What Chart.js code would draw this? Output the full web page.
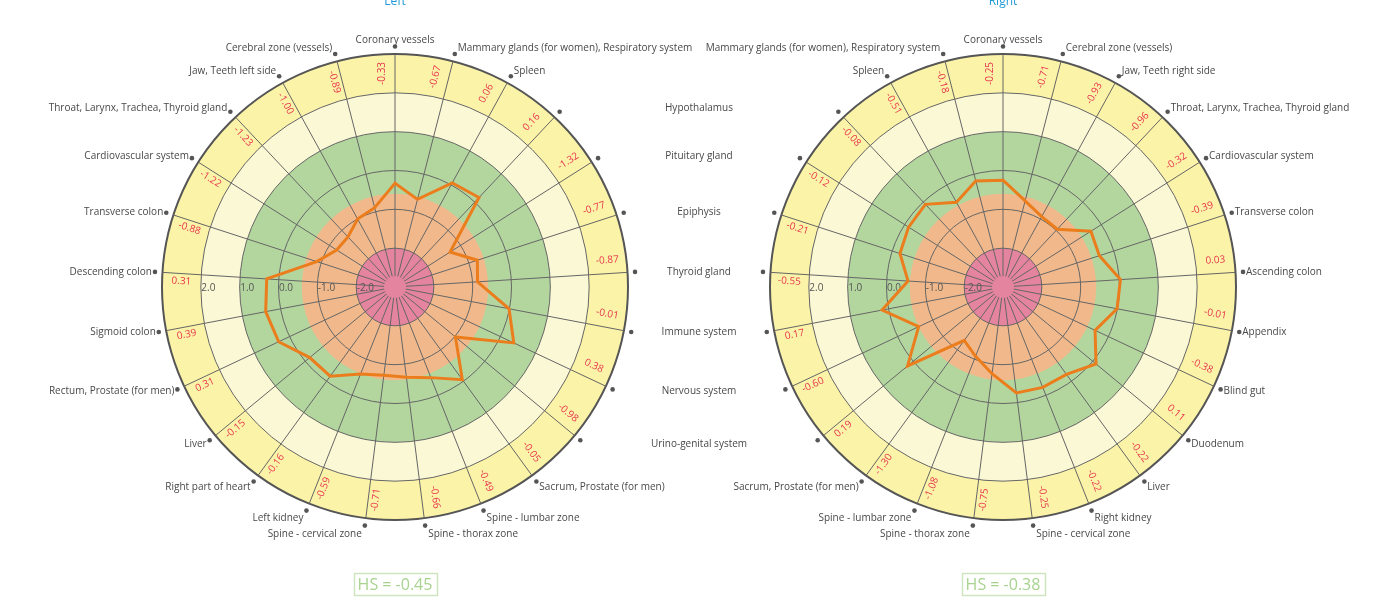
<!DOCTYPE html>
<html>
<head>
<meta charset="utf-8">
<title>Health score</title>
<script src="https://cdn.jsdelivr.net/npm/chart.js@4.4.0/dist/chart.umd.min.js"></script>
<style>
  html, body { margin: 0; padding: 0; background: #fff; overflow: hidden; }
  .panel { position: absolute; top: 0; width: 790px; height: 600px; }
  #leftPanel { left: 0; }
  #rightPanel { left: 608px; }
</style>
</head>
<body>
<div class="panel" id="leftPanel"><canvas id="leftChart"></canvas></div>
<div class="panel" id="rightPanel"><canvas id="rightChart"></canvas></div>
<script>
// zones go clockwise starting at the top
const leftLabels = [
  "Coronary vessels", "Mammary glands (for women), Respiratory system", "Spleen",
  "Hypothalamus", "Pituitary gland", "Epiphysis", "Thyroid gland", "Immune system",
  "Nervous system", "Urino-genital system", "Sacrum, Prostate (for men)",
  "Spine - lumbar zone", "Spine - thorax zone", "Spine - cervical zone", "Left kidney",
  "Right part of heart", "Liver", "Rectum, Prostate (for men)", "Sigmoid colon",
  "Descending colon", "Transverse colon", "Cardiovascular system",
  "Throat, Larynx, Trachea, Thyroid gland", "Jaw, Teeth left side", "Cerebral zone (vessels)"
];
const leftValues = [
  -0.33, -0.67, 0.06, 0.16, -1.32, -0.77, -0.87, -0.01, 0.38, -0.98, -0.05, -0.49, -0.66,
  -0.71, -0.59, -0.16, -0.15, 0.31, 0.39, 0.31, -0.88, -1.22, -1.23, -1.00, -0.89
];
const rightLabels = [
  "Coronary vessels", "Cerebral zone (vessels)", "Jaw, Teeth right side",
  "Throat, Larynx, Trachea, Thyroid gland", "Cardiovascular system", "Transverse colon",
  "Ascending colon", "Appendix", "Blind gut", "Duodenum", "Liver", "Right kidney",
  "Spine - cervical zone", "Spine - thorax zone", "Spine - lumbar zone",
  "Sacrum, Prostate (for men)", "Urino-genital system", "Nervous system", "Immune system",
  "Thyroid gland", "Epiphysis", "Pituitary gland", "Hypothalamus", "Spleen",
  "Mammary glands (for women), Respiratory system"
];
const rightValues = [
  -0.25, -0.71, -0.93, -0.96, -0.32, -0.39, 0.03, -0.01, -0.38, 0.11, -0.22, -0.22, -0.25,
  -0.75, -1.08, -1.30, 0.19, -0.60, 0.17, -0.55, -0.21, -0.12, -0.08, -0.51, -0.18
];
const tickValues = [-2, -1, 0, 1, 2];
const bandEdges = [-3, -2, -0.6, 1, 2, 3];
const bandColors = ["#e5849f", "#f1b98b", "#b3d69f", "#fbf8d5", "#fbf3a7"];

// left chart: labels in the middle are left out, right chart: they are stacked in a column
const leftHidden = [3, 4, 5, 6, 7, 8, 9];
const rightColumn = [16, 17, 18, 19, 20, 21, 22];

function makeChart(canvasId, title, labels, values, hidden, column) {
  const zones = {
    id: "zones",
    beforeDraw(chart) {
      const r = chart.scales.r;
      const ctx = chart.ctx;
      ctx.save();
      for (let i = bandEdges.length - 1; i > 0; i--) {
        ctx.beginPath();
        ctx.arc(r.xCenter, r.yCenter, r.getDistanceFromCenterForValue(bandEdges[i]), 0, Math.PI * 2);
        ctx.fillStyle = bandColors[i - 1];
        ctx.fill();
      }
      ctx.restore();
    },
    beforeDatasetsDraw(chart) {
      const r = chart.scales.r;
      const ctx = chart.ctx;
      const outer = r.getDistanceFromCenterForValue(r.max);
      const mid = (r.getDistanceFromCenterForValue(2) + outer) / 2;
      ctx.save();
      // cover the knot where the spokes meet
      ctx.beginPath();
      ctx.arc(r.xCenter, r.yCenter, 11, 0, Math.PI * 2);
      ctx.fillStyle = bandColors[0];
      ctx.fill();

      ctx.font = "10px 'Open Sans'";
      ctx.fillStyle = "#555";
      ctx.textAlign = "left";
      ctx.textBaseline = "middle";
      tickValues.forEach(t => {
        ctx.fillText(t.toFixed(1), r.xCenter - r.getDistanceFromCenterForValue(t) + 0.5, r.yCenter + 1.5);
      });

      labels.forEach((name, i) => {
        const a = r.getIndexAngle(i);
        const sin = Math.sin(a), cos = Math.cos(a);

        // value written along the spoke in the outer band
        const p = r.getPointPosition(i, mid);
        ctx.save();
        ctx.translate(p.x - cos * 10.5, p.y - sin * 10.5);
        ctx.rotate(a < Math.PI ? a - Math.PI / 2 : a - 1.5 * Math.PI);
        ctx.fillStyle = "#e8364f";
        ctx.textAlign = "center";
        ctx.textBaseline = "alphabetic";
        ctx.fillText(values[i].toFixed(2), 0, 0);
        ctx.restore();

        const dot = r.getPointPosition(i, outer + 7.5);
        ctx.beginPath();
        ctx.arc(dot.x, dot.y, 2.3, 0, Math.PI * 2);
        ctx.fillStyle = "#555";
        ctx.fill();

        if (hidden.includes(i)) return;
        let x = dot.x, align = "center";
        if (column.includes(i)) {
          x = 699 - 608;
        } else if (sin > 0.01) {
          x = dot.x + 3; align = "left";
        } else if (sin < -0.01) {
          x = dot.x - 3; align = "right";
        }
        const dy = cos > 0 ? -6.5 * cos * cos : 8.5 * cos * cos;
        ctx.fillStyle = "#484848";
        ctx.textAlign = align;
        ctx.textBaseline = "middle";
        ctx.fillText(name, x, dot.y + dy);
      });
      ctx.restore();
    },
    afterDraw(chart) {
      const r = chart.scales.r;
      const ctx = chart.ctx;
      ctx.save();
      ctx.font = "12px 'Open Sans'";
      ctx.fillStyle = "#1f9ad8";
      ctx.textAlign = "center";
      ctx.textBaseline = "alphabetic";
      ctx.fillText(title, r.xCenter, 5);

      const hs = values.reduce((s, v) => s + v, 0) / values.length;
      const text = "HS = " + hs.toFixed(2);
      ctx.font = "16px 'Open Sans'";
      const w = ctx.measureText(text).width + 8;
      ctx.strokeStyle = "#cfe5c0";
      ctx.lineWidth = 1.5;
      ctx.strokeRect(Math.round(r.xCenter - w / 2) + 0.5, 573.5, Math.round(w), 22);
      ctx.fillStyle = "#a8d38f";
      ctx.textBaseline = "middle";
      ctx.fillText(text, r.xCenter, 585);
      ctx.restore();
    }
  };

  return new Chart(document.getElementById(canvasId), {
    type: "radar",
    data: {
      labels: labels,
      datasets: [{
        label: title,
        data: values,
        borderColor: "#eb7d1d",
        borderWidth: 3,
        pointRadius: 0,
        fill: false,
        tension: 0
      }]
    },
    options: {
      responsive: true,
      maintainAspectRatio: false,
      animation: false,
      layout: { padding: { left: 161.5, right: 161.5, top: 53.5, bottom: 79.5 } },
      plugins: { legend: { display: false }, tooltip: { enabled: false } },
      scales: {
        r: {
          min: -3,
          max: 3,
          ticks: { display: false, stepSize: 1 },
          grid: {
            circular: true,
            color: ctx => ctx.tick && ctx.tick.value === 3 ? "#555" : "#666",
            lineWidth: ctx => ctx.tick && ctx.tick.value === 3 ? 2 : 1
          },
          angleLines: { color: "#666", lineWidth: 1 },
          pointLabels: { display: false }
        }
      }
    },
    plugins: [zones]
  });
}

makeChart("leftChart", "Left", leftLabels, leftValues, leftHidden, []);
makeChart("rightChart", "Right", rightLabels, rightValues, [], rightColumn);
</script>
</body>
</html>
